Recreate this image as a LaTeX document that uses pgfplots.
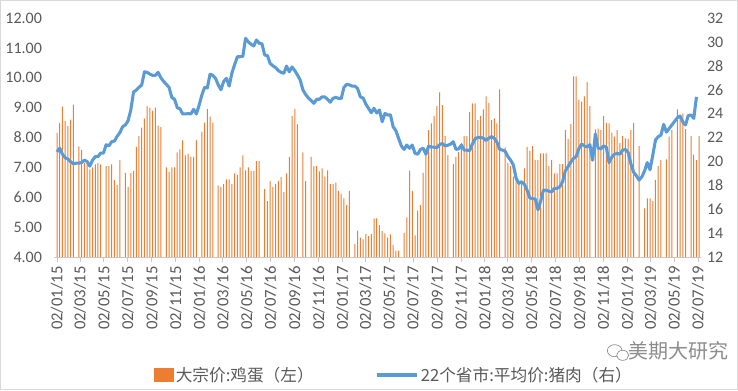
\documentclass[border=0pt]{standalone}
\usepackage{pgfplots}
\pgfplotsset{compat=1.18}
\usepackage{pgfplotstable}
\usepackage{fontspec}
\setmainfont{Carlito}
\newfontfamily\cjk{Noto Sans CJK SC}
\definecolor{eggc}{RGB}{237,125,49}
\definecolor{porkc}{RGB}{91,155,213}
\definecolor{labgray}{RGB}{89,89,89}
\definecolor{axisgray}{RGB}{200,200,200}
\definecolor{bordergray}{RGB}{217,217,217}
\definecolor{wmgray}{RGB}{140,140,140}

\pgfplotstableread[row sep=\\]{
egg pork\\
8.15 20.8\\ 8.48 21.1\\ 9.03 20.6\\ 8.55 20.3\\ 8.38 20.2\\ 8.6 19.97\\ 9.1 19.8\\ nan 19.85\\ 7.7 19.85\\ 7.58 19.9\\
7.14 20.1\\ 7.1 20.0\\ 6.93 19.6\\ 7.0 20.1\\ 7.1 20.4\\ 7.14 20.4\\ 7.1 20.7\\ nan 20.7\\ 7.04 21.4\\ 7.04 21.3\\
7.1 21.65\\ 6.58 21.7\\ 6.41 22.1\\ 7.25 22.4\\ nan 22.9\\ 6.82 23.05\\ 6.35 23.4\\ 6.82 24.3\\ 6.88 25.8\\ 7.69 25.97\\
8.05 26.2\\ 8.33 26.4\\ 8.63 27.5\\ 9.05 27.45\\ 9.0 27.3\\ 8.9 27.2\\ 9.0 27.2\\ 8.4 27.45\\ 8.35 27.0\\ nan 26.7\\
7.0 26.45\\ 6.85 26.2\\ 7.0 25.35\\ 7.0 25.2\\ 7.5 24.5\\ 7.6 24.4\\ 7.9 23.97\\ 7.4 23.97\\ 7.45 24.0\\ 7.35 23.97\\
7.35 24.36\\ 7.9 23.97\\ nan 24.7\\ 8.2 25.55\\ 8.5 26.2\\ 8.95 26.15\\ 8.7 27.3\\ 8.5 27.2\\ nan 26.95\\ 6.4 26.4\\
6.35 26.0\\ 6.45 26.7\\ 6.6 26.95\\ 6.6 26.3\\ 6.45 27.4\\ 6.8 28.1\\ 6.75 28.76\\ 7.0 28.76\\ 7.4 28.8\\ 6.9 30.3\\
7.0 30.0\\ 6.88 29.8\\ 6.88 29.66\\ 7.21 30.16\\ 7.21 29.88\\ nan 29.85\\ 6.27 28.9\\ 5.87 28.85\\ 6.54 28.2\\ 6.35 28.0\\
6.45 27.85\\ 6.54 27.6\\ 6.67 27.45\\ 6.17 27.37\\ 6.8 27.98\\ 7.35 27.5\\ 8.72 27.9\\ 8.95 27.6\\ 8.44 27.23\\ nan 26.8\\
7.5 25.97\\ 6.54 25.6\\ nan 25.3\\ 7.35 25.1\\ 7.04 24.86\\ 7.04 25.2\\ 6.87 25.2\\ 6.97 25.4\\ 6.69 25.4\\ 6.9 25.2\\
6.44 24.95\\ 6.44 25.28\\ 6.49 25.36\\ 6.21 25.28\\ 6.11 25.25\\ 5.96 26.2\\ 5.74 26.45\\ 6.21 26.4\\ nan 26.3\\ 4.43 26.3\\
4.88 26.1\\ 4.65 25.4\\ 4.59 25.3\\ 4.77 24.8\\ 4.7 24.44\\ 4.77 24.08\\ 5.29 24.44\\ 5.29 24.05\\ 5.07 24.3\\ 4.87 23.32\\
4.79 24.02\\ 4.65 23.88\\ 4.76 23.9\\ 4.4 22.9\\ 4.21 22.57\\ 4.21 21.93\\ nan 21.3\\ 4.81 21.0\\ 5.33 21.37\\ 6.89 21.1\\
6.21 21.37\\ 4.72 20.68\\ 5.55 20.6\\ 5.74 21.0\\ 6.82 21.1\\ 7.41 20.6\\ 8.25 21.29\\ 8.47 21.2\\ 8.72 21.2\\ 9.05 21.15\\
9.51 21.4\\ 9.08 21.5\\ 8.05 21.3\\ 7.41 21.35\\ nan 21.45\\ 7.11 21.65\\ 7.35 21.0\\ 7.52 21.05\\ 7.82 21.37\\ 8.05 20.95\\
8.05 20.95\\ 8.86 20.9\\ 9.14 21.45\\ 9.14 21.9\\ 8.58 22.0\\ 8.72 22.0\\ 8.94 21.95\\ 9.38 21.74\\ 9.16 21.95\\ 8.58 22.07\\
8.64 21.95\\ 8.47 21.6\\ 9.61 21.0\\ nan 20.95\\ 7.67 20.85\\ 7.16 20.4\\ 7.04 20.1\\ 6.69 19.7\\ 6.6 18.6\\ 6.44 18.16\\
6.54 18.3\\ 6.97 18.1\\ 7.69 17.6\\ 7.55 16.95\\ 7.71 16.88\\ 7.24 16.85\\ 7.24 15.95\\ 7.47 16.7\\ 7.47 17.6\\ 7.47 17.6\\
7.04 17.5\\ 7.24 17.45\\ 6.8 17.75\\ 6.8 17.75\\ 7.11 17.88\\ 7.11 18.3\\ 8.25 19.2\\ 7.95 19.56\\ 8.45 19.95\\ 10.05 20.25\\
10.05 20.4\\ 9.27 21.1\\ 9.2 21.45\\ 9.38 21.3\\ 9.86 21.2\\ 9.05 21.4\\ nan 20.1\\ 8.27 22.3\\ 8.3 21.1\\ 8.25 21.05\\
8.72 21.29\\ 8.49 21.2\\ 8.47 19.9\\ 8.16 20.35\\ 8.03 20.6\\ 8.25 20.68\\ 7.82 20.6\\ 8.05 20.95\\ 7.97 21.0\\ 7.95 20.75\\
8.25 19.8\\ 8.49 19.1\\ nan 18.8\\ 7.71 18.44\\ nan 18.7\\ 5.63 19.2\\ 5.96 19.9\\ 5.96 19.3\\ 5.87 20.5\\ 6.58 21.8\\
7.04 22.07\\ 7.24 22.2\\ nan 23.1\\ 7.27 22.45\\ 8.03 22.75\\ 8.25 23.05\\ nan 23.35\\ 8.94 23.65\\ 8.72 23.8\\ 8.8 23.3\\
8.28 23.05\\ nan 23.85\\ 8.05 23.88\\ 7.43 23.6\\ 7.24 25.4\\ 8.05 nan\\
}\datatable

\pgfplotsset{
  common/.style={
    at={(40.5pt,99.75pt)}, anchor=south west,
    scale only axis, width=485.25pt, height=179.25pt,
    xmin=-7.7, xmax=1649.6,
    tick label style={font=\fontsize{12}{14}\selectfont, text=labgray},
    /pgf/number format/assume math mode=true,
    clip=true,
  }
}

\begin{document}
\begin{tikzpicture}[x=1pt,y=1pt]
\useasboundingbox (0,0) rectangle (553.5,292.5);
\draw[bordergray, line width=0.75pt] (0.4,0.4) rectangle (553.1,292.1);

\begin{axis}[common,
  ymin=4, ymax=12, ytick={4,5,...,12},
  yticklabel={\pgfmathprintnumber[fixed,fixed zerofill,precision=2]{\tick}},
  axis x line*=bottom, axis y line*=left,
  y axis line style={draw=none}, ytick style={draw=none},
  x axis line style={draw=axisgray, line width=0.75pt},
  xtick={0,59,120,181,243,304,365,425,486,547,609,670,731,790,851,912,974,1035,1096,1155,1216,1277,1339,1400,1461,1520,1581,1642},
  xticklabels={02/01/15,02/03/15,02/05/15,02/07/15,02/09/15,02/11/15,02/01/16,02/03/16,02/05/16,02/07/16,02/09/16,02/11/16,02/01/17,02/03/17,02/05/17,02/07/17,02/09/17,02/11/17,02/01/18,02/03/18,02/05/18,02/07/18,02/09/18,02/11/18,02/01/19,02/03/19,02/05/19,02/07/19},
  xticklabel style={rotate=90, anchor=east, font=\fontsize{12.5}{14}\selectfont},
  xtick style={draw=axisgray, line width=0.75pt},
  tick align=outside, major tick length=3.5pt,
  yticklabel style={xshift=-2pt},
]
\addplot[ybar, bar width=0.75pt, fill=eggc, draw=none] table[x expr=\coordindex*7, y=egg] {\datatable};
\end{axis}

\begin{axis}[common,
  ymin=12, ymax=32, ytick={12,14,...,32},
  axis x line*=bottom, x axis line style={draw=none}, xtick=\empty,
  axis y line*=right, y axis line style={draw=none}, ytick style={draw=none},
  yticklabel style={xshift=1pt},
  legend columns=2,
  legend cell align=left,
  legend style={draw=none, fill=none, inner sep=0pt,
    at={(0.154,-0.4937)}, anchor=west,
    font=\cjk\fontsize{12.5}{14}\selectfont, text=labgray,
    /tikz/every even column/.append style={column sep=44pt}},
]
\addlegendimage{legend image code/.code={\fill[eggc] (0pt,-5pt) rectangle (14pt,5pt);}}
\addlegendentry{大宗价:鸡蛋（左）}
\addplot[porkc, line width=2.3pt, line join=round,
  legend image code/.code={\draw[porkc, line width=2.3pt] (0pt,0pt) -- (30pt,0pt);}]
  table[x expr=\coordindex*7, y=pork] {\datatable};
\addlegendentry{22个省市:平均价:猪肉（右）}
\end{axis}

\draw[wmgray, line width=0.5pt] (461,29.5) ellipse (5.5pt and 4.5pt);
\draw[wmgray, line width=0.5pt, fill=white] (467,26) ellipse (4.5pt and 3.8pt);
\node[anchor=west, text=wmgray, inner sep=0pt] at (471,29) {\cjk\fontsize{15}{17}\selectfont 美期大研究};
\end{tikzpicture}
\end{document}
